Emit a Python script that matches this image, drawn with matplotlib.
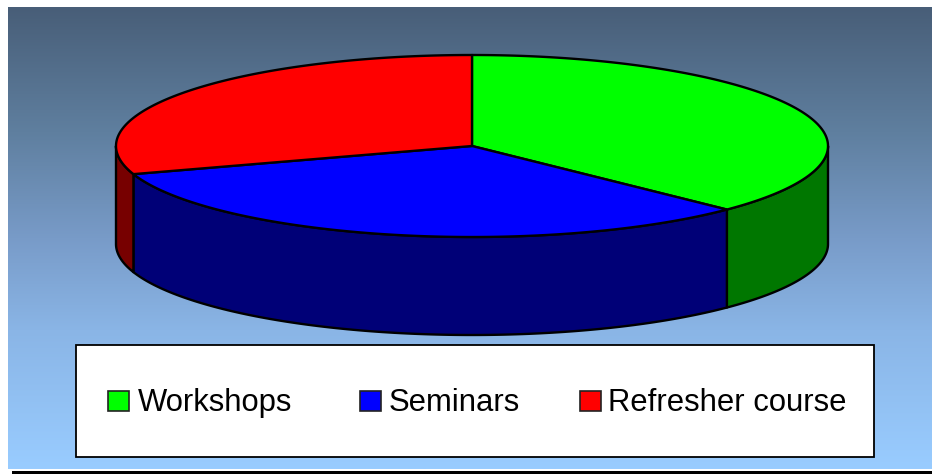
import numpy as np
import matplotlib.pyplot as plt
from matplotlib.colors import LinearSegmentedColormap
from matplotlib.patches import Polygon, Rectangle

plt.rcParams['font.family'] = ['Liberation Sans', 'DejaVu Sans']

categories = ["Workshops", "Seminars", "Refresher course"]
values = [37.3, 32.7, 30]
topColors = ["#00FF00", "#0000FF", "#FF0000"]
sideColors = ["#007700", "#000077", "#770000"]


def ellipsePoints(angles):
    # angles in degrees, clockwise from 12 o'clock
    rad = np.radians(angles)
    return cx + a * np.sin(rad), cy - b * np.cos(rad)


# pie geometry in picture pixels
cx, cy, a, b, depth = 472, 146, 356, 91, 98
lw = 1.7

fig = plt.figure(figsize=(9.32, 4.74), dpi=100)
ax = fig.add_axes([0, 0, 1, 1])
ax.axis('off')

## background gradient
cmap = LinearSegmentedColormap.from_list(
    "bg", [(0, "#485E78"), (0.27, "#5F7F9F"), (0.5, "#789BC8"), (0.7, "#8AB5E6"), (1, "#99CCFF")])
ax.imshow(np.linspace(0, 1, 256).reshape(-1, 1), cmap=cmap, aspect='auto',
          extent=(8, 932, 469, 7), zorder=0)
ax.set_xlim(0, 932)
ax.set_ylim(474, 0)
ax.add_patch(Rectangle((12, 471), 920, 3, color='black', lw=0, zorder=1))

## pie
edges = np.concatenate([[0], np.cumsum(values)]) / sum(values) * 360

# side walls, only the front half of the ellipse shows
for i in range(len(values)):
    start, end = max(edges[i], 90), min(edges[i + 1], 270)
    if start >= end:
        continue
    t = np.linspace(start, end, 120)
    x, y = ellipsePoints(t)
    pts = np.concatenate([np.column_stack([x, y]),
                          np.column_stack([x[::-1], y[::-1] + depth])])
    ax.add_patch(Polygon(pts, closed=True, facecolor=sideColors[i], edgecolor='black',
                         linewidth=lw, joinstyle='round', zorder=2))

# top slices
for i in range(len(values)):
    t = np.linspace(edges[i], edges[i + 1], 240)
    x, y = ellipsePoints(t)
    pts = np.concatenate([[[cx, cy]], np.column_stack([x, y])])
    ax.add_patch(Polygon(pts, closed=True, facecolor=topColors[i], edgecolor='black',
                         linewidth=lw, joinstyle='round', zorder=3))

## legend box
ax.add_patch(Rectangle((76, 345), 798, 112, facecolor='white', edgecolor='black',
                       linewidth=1.3, zorder=4))
swatchX = [108, 360, 580]
textX = [138, 389, 608]
for i in range(len(categories)):
    ax.add_patch(Rectangle((swatchX[i], 391), 21, 20, facecolor=topColors[i],
                           edgecolor='#222222', linewidth=1.2, zorder=5))
    ax.text(textX[i], 411, categories[i], fontsize=22.3, color='black',
            ha='left', va='baseline', zorder=5)

fig.savefig("out.png", dpi=100)
